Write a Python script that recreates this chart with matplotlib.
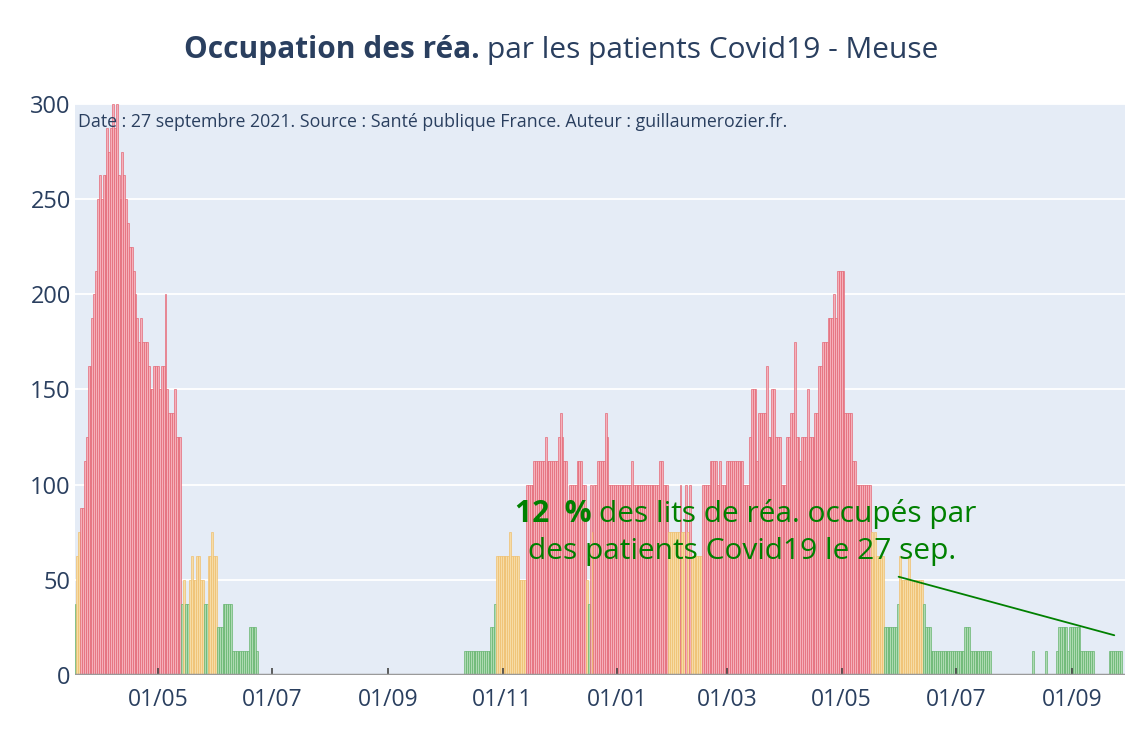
import numpy as np
import pandas as pd
import matplotlib
matplotlib.use("Agg")
import matplotlib.pyplot as plt
import matplotlib.dates as mdates

plt.rcParams['font.family'] = ['Open Sans', 'DejaVu Sans']

# Taux d'occupation des lits de réa (%), sous forme (valeur, nombre de jours)
debut = "2020-03-18"
niveaux = [37.5, 62.5, 75, 87.5, 112.5, 125, 162.5, 187.5, 200, 212.5, 250, 262.5, 250, 262.5,
           287.5, 275, 287.5, 300, 287.5, 300, 262.5, 250, 275, 262.5, 250, 237.5, 225, 212.5,
           200, 187.5, 175, 187.5, 175, 162.5, 150, 162.5, 150, 162.5, 200, 150, 137.5, 150, 125,
           # fin de la 1re vague
           37.5, 50, 37.5, 50, 62.5, 50, 62.5, 50, 37.5, 62.5, 75, 62.5, 25, 37.5, 12.5, 25, 12.5, 0,
           # 2e et 3e vagues
           12.5, 25, 37.5, 62.5, 75, 62.5, 50, 100, 112.5, 125, 112.5, 125, 137.5, 125, 112.5,
           87.5, 100, 112.5, 100, 50, 37.5, 100, 75, 100, 112.5, 137.5, 125, 100, 112.5, 100,
           112.5, 100, 75, 100, 75, 100, 75, 100, 62.5, 100, 112.5, 100, 112.5, 100, 112.5, 100,
           125, 150, 112.5, 137.5, 162.5, 125, 150, 125, 100, 125, 137.5, 175, 125, 112.5, 125,
           150, 125, 137.5, 162.5, 175, 187.5, 200, 187.5, 212.5, 137.5, 112.5, 100,
           75, 62.5, 75, 62.5, 25, 37.5, 62.5, 50, 62.5, 50, 37.5, 25, 12.5, 25, 12.5, 0, 12.5, 0,
           12.5, 0, 12.5, 25, 12.5, 25, 12.5, 0, 12.5]
durees = [1, 1, 1, 2, 1, 1, 2, 1, 1, 1, 1, 1, 1, 2,
          1, 1, 1, 1, 1, 1, 1, 1, 1, 1, 1, 1, 2, 1,
          1, 1, 1, 1, 3, 1, 2, 3, 1, 2, 1, 1, 3, 1, 3,
          1, 1, 2, 1, 1, 2, 2, 2, 2, 2, 1, 2, 3, 5, 9, 4, 1, 110,
          14, 2, 1, 7, 1, 4, 4, 4, 6, 1, 6, 1, 1, 1, 2,
          1, 4, 3, 2, 1, 1, 1, 1, 2, 4, 1, 1, 12, 1, 14,
          2, 3, 6, 1, 2, 1, 1, 1, 6, 4, 4, 1, 1, 3, 9, 3,
          1, 3, 1, 4, 1, 2, 2, 3, 3, 2, 2, 1, 2, 1, 3,
          1, 3, 2, 2, 3, 3, 1, 1, 4, 4, 2, 8,
          1, 1, 1, 4, 7, 1, 1, 4, 1, 7, 1, 3, 18, 3, 11, 22, 1, 6,
          1, 5, 1, 5, 1, 6, 7, 8, 7]

valeurs = np.repeat(niveaux, durees)
dates = pd.date_range(debut, periods=len(valeurs), freq="D")

def couleurs(v):
    if v <= 40:
        return "#ADDAB2", "#5DB066"
    if v <= 80:
        return "#F6DCA6", "#EFBC66"
    return "#F5B0BA", "#E2606F"

fonds = [couleurs(v)[0] for v in valeurs]
bords = [couleurs(v)[1] for v in valeurs]

fig = plt.figure(figsize=(11.25, 7.5), dpi=100)
ax = fig.add_axes([75/1125, 0.1, 1050/1125, 571/750])
ax.set_facecolor("#E5ECF6")

yticks = [0, 50, 100, 150, 200, 250, 300]
for yv in yticks[1:]:
    ax.axhline(yv, color="white", linewidth=1.3, zorder=0.5)

masque = valeurs > 0
ax.bar(dates[masque], valeurs[masque], width=1.0, color=np.array(fonds)[masque],
       edgecolor=np.array(bords)[masque], linewidth=0.45, zorder=2)
ax.axhline(0, color="#9a9a9a", linewidth=2.5, zorder=3)

ax.set_ylim(0, 300)
ax.set_yticks(yticks)
ax.set_xlim(dates[0] - pd.Timedelta(hours=7), dates[0] + pd.Timedelta(days=560.3))
ticks = pd.to_datetime(["2020-05-01", "2020-07-01", "2020-09-01", "2020-11-01", "2021-01-01",
                        "2021-03-01", "2021-05-01", "2021-07-01", "2021-09-01"])
ax.set_xticks(ticks)
ax.xaxis.set_major_formatter(mdates.DateFormatter("%d/%m"))
ax.set_axisbelow(False)
for s in ax.spines.values():
    s.set_visible(False)
ax.tick_params(axis="x", direction="in", length=5, width=1.2, color="#444444",
               labelsize=16.5, labelcolor="#2a3f5f", pad=9)
ax.tick_params(axis="y", length=0, labelsize=17, labelcolor="#2a3f5f", pad=3)

ax.text(0.003, 0.968, "Date : 27 septembre 2021. Source : Santé publique France. Auteur : guillaumerozier.fr.",
        transform=ax.transAxes, fontsize=12.8, color="#2a3f5f", va="center", ha="left", zorder=5)

renderer = fig.canvas.get_renderer()
W = fig.bbox.width

def texte_mixte(morceaux, xc, y, taille, couleur):
    objs = []
    for s, gras in morceaux:
        objs.append(fig.text(0, y, s, fontsize=taille, color=couleur,
                             fontweight="bold" if gras else "normal", va="baseline"))
    espace = taille * 100 / 72 * 0.26
    larg = [t.get_window_extent(renderer).width for t in objs]
    total = sum(larg) + espace * (len(objs) - 1)
    x = xc * W - total / 2
    for t, w in zip(objs, larg):
        t.set_x(x / W)
        x += w + espace

texte_mixte([("Occupation des réa.", True), ("par les patients Covid19 - Meuse", False)],
            0.499, 1 - 58/750, 21.5, "#2a3f5f")

dernier = valeurs[-1]
texte_mixte([("12  %", True), ("des lits de réa. occupés par", False)],
            746/1125, 1 - 522/750, 21.5, "green")
texte_mixte([("des patients Covid19 le 27 sep.", False)],
            742/1125, 1 - 559/750, 21.5, "green")

ax.annotate("", xy=(dates[-1] - pd.Timedelta(days=2), dernier + 8),
            xytext=(dates[0] + pd.Timedelta(days=438), 52),
            arrowprops=dict(arrowstyle="-", color="green", linewidth=1.3))

fig.savefig("out.png", dpi=100)
